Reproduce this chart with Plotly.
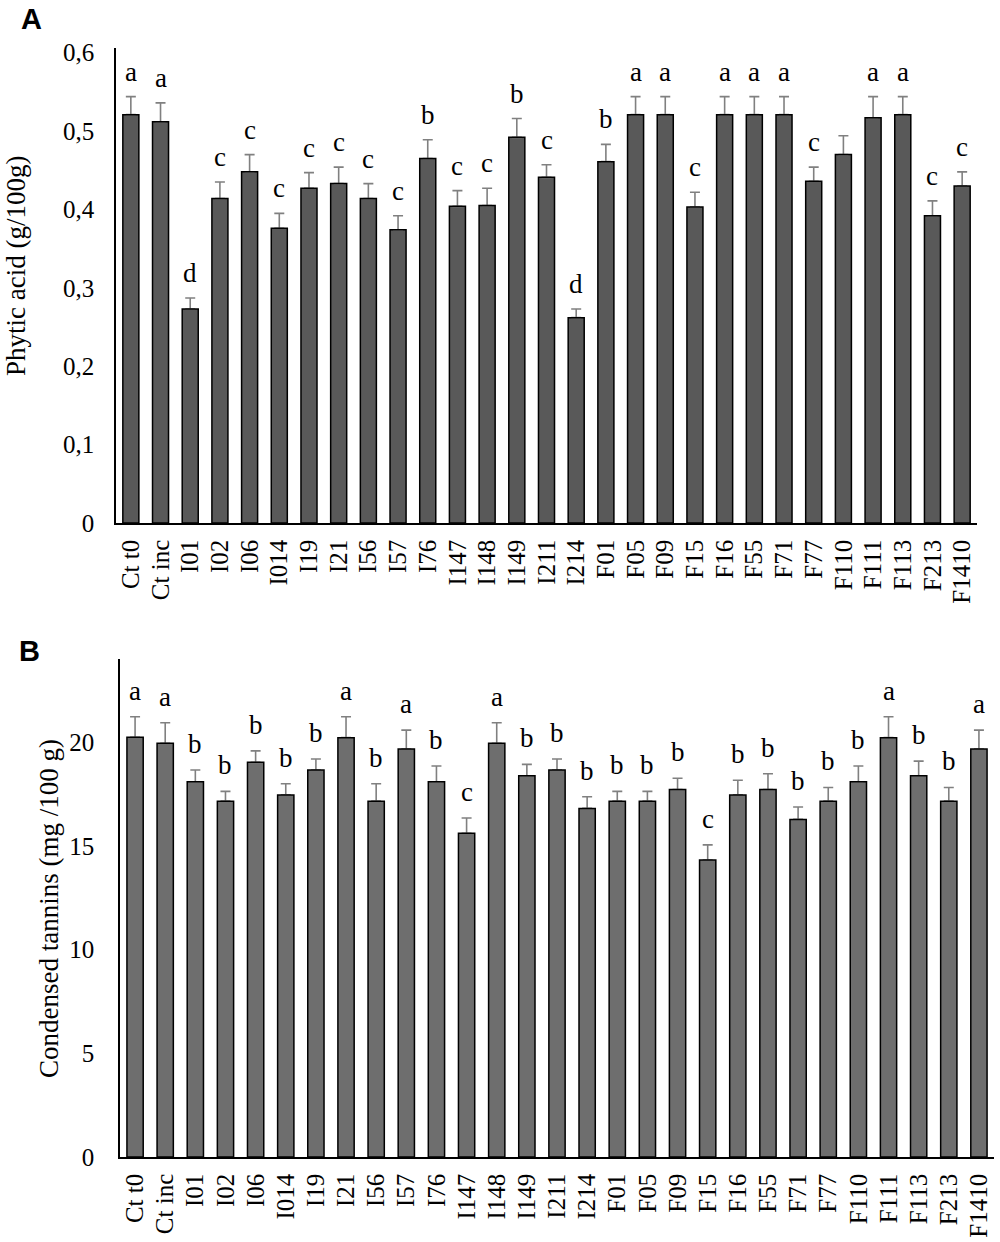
""" Phytic acid (A) and condensed tannins (B) per sample, bars with SD and letters """

import plotly.graph_objects as go

samples = ['Ct t0', 'Ct inc', 'I01', 'I02', 'I06', 'I014', 'I19', 'I21', 'I56', 'I57',
           'I76', 'I147', 'I148', 'I149', 'I211', 'I214', 'F01', 'F05', 'F09', 'F15',
           'F16', 'F55', 'F71', 'F77', 'F110', 'F111', 'F113', 'F213', 'F1410']

phytic = [0.521, 0.512, 0.273, 0.414, 0.448, 0.376, 0.427, 0.433, 0.414, 0.374,
          0.465, 0.404, 0.405, 0.492, 0.441, 0.262, 0.461, 0.521, 0.521, 0.403,
          0.521, 0.521, 0.521, 0.436, 0.470, 0.517, 0.521, 0.392, 0.430]
phytic_err = [0.023, 0.024, 0.014, 0.021, 0.022, 0.019, 0.020, 0.021, 0.019, 0.018,
              0.024, 0.020, 0.022, 0.024, 0.016, 0.011, 0.022, 0.023, 0.023, 0.019,
              0.023, 0.023, 0.023, 0.018, 0.024, 0.027, 0.023, 0.019, 0.018]
phytic_letters = ['a', 'a', 'd', 'c', 'c', 'c', 'c', 'c', 'c', 'c',
                  'b', 'c', 'c', 'b', 'c', 'd', 'b', 'a', 'a', 'c',
                  'a', 'a', 'a', 'c', '', 'a', 'a', 'c', 'c']

tannins = [20.23, 19.94, 18.08, 17.15, 19.02, 17.45, 18.65, 20.21, 17.15, 19.66,
           18.08, 15.60, 19.94, 18.37, 18.65, 16.80, 17.15, 17.15, 17.71, 14.31,
           17.45, 17.71, 16.27, 17.15, 18.08, 20.21, 18.37, 17.15, 19.66]
tannins_err = [0.99, 0.99, 0.57, 0.47, 0.55, 0.54, 0.53, 1.01, 0.84, 0.91,
               0.76, 0.74, 0.99, 0.55, 0.53, 0.56, 0.47, 0.47, 0.54, 0.73,
               0.71, 0.76, 0.60, 0.66, 0.76, 1.01, 0.71, 0.66, 0.91]
tannins_letters = ['a', 'a', 'b', 'b', 'b', 'b', 'b', 'a', 'b', 'a',
                   'b', 'c', 'a', 'b', 'b', 'b', 'b', 'b', 'b', 'c',
                   'b', 'b', 'b', 'b', 'b', 'a', 'b', 'b', 'a']

SERIF = 'Liberation Serif, Times New Roman, serif'
SANS = 'Liberation Sans, Arial, sans-serif'
W, H = 1000, 1242


def px(x):
    """ page x pixel -> paper coordinate """
    return x / W


def py(y):
    """ page y pixel -> paper coordinate """
    return 1 - y / H


def add_panel(fig, values, errors, letters, colour, n, shift):
    """ Adds filled bars with upper error bars, an outline layer and the letters """
    xa = 'x' if n == 1 else 'x' + str(n)
    ya = 'y' if n == 1 else 'y' + str(n)
    fig.add_trace(go.Bar(x=samples, y=values, xaxis=xa, yaxis=ya,
                         marker=dict(color=colour, line=dict(width=0)),
                         error_y=dict(type='data', symmetric=False, array=errors,
                                      arrayminus=[0] * len(errors), color='#808080',
                                      thickness=1.6, width=5),
                         showlegend=False, hoverinfo='x+y'))
    # black outline drawn over the lower error caps
    fig.add_trace(go.Bar(x=samples, y=values, xaxis=xa, yaxis=ya,
                         marker=dict(color='rgba(0,0,0,0)', line=dict(color='black', width=1.5)),
                         showlegend=False, hoverinfo='skip'))
    for s, v, e, t in zip(samples, values, errors, letters):
        if t:
            fig.add_annotation(x=s, y=v + e, xref=xa, yref=ya, text=t, showarrow=False,
                               xanchor='center', yanchor='bottom', yshift=shift,
                               font=dict(family=SERIF, size=27, color='black'))


fig = go.Figure()
add_panel(fig, phytic, phytic_err, phytic_letters, '#595959', 1, 8)
add_panel(fig, tannins, tannins_err, tannins_letters, '#6e6e6e', 2, 9)

axis_font = dict(family=SERIF, size=25, color='black')
x_common = dict(type='category', showline=True, linecolor='black', linewidth=1.5,
                showgrid=False, zeroline=False, tickangle=-90, ticks='outside',
                ticklen=5, tickcolor='rgba(0,0,0,0)', tickfont=axis_font,
                tickmode='array', tickvals=samples, ticktext=samples, automargin=False)
y_common = dict(showline=True, linecolor='black', linewidth=1.5, showgrid=False,
                zeroline=False, ticks='outside', tickcolor='rgba(0,0,0,0)',
                tickfont=axis_font, automargin=False)

fig.update_layout(
    width=W, height=H,
    margin=dict(l=0, r=0, t=0, b=0),
    paper_bgcolor='white', plot_bgcolor='white',
    barmode='overlay', bargap=0.46,
    separators=', ',
    xaxis=dict(domain=[px(116), px(977)], anchor='y', **x_common),
    yaxis=dict(domain=[py(523), py(48)], anchor='x', range=[0, 0.606],
               dtick=0.1, ticklen=15, **y_common),
    xaxis2=dict(domain=[px(120), px(994)], anchor='y2', **x_common),
    yaxis2=dict(domain=[py(1157), py(659)], anchor='x2', range=[0, 24],
                dtick=5, ticklen=19, **y_common),
)

# axis titles and panel letters
fig.add_annotation(x=px(16), y=py(266), xref='paper', yref='paper', showarrow=False,
                   xanchor='center', yanchor='middle',
                   text='Phytic acid (g/100g)', textangle=-90,
                   font=dict(family=SERIF, size=27, color='black'))
fig.add_annotation(x=px(49), y=py(909), xref='paper', yref='paper', showarrow=False,
                   xanchor='center', yanchor='middle',
                   text='Condensed tannins (mg /100 g)', textangle=-90,
                   font=dict(family=SERIF, size=27, color='black'))
fig.add_annotation(x=px(31), y=py(19), xref='paper', yref='paper', showarrow=False,
                   xanchor='center', yanchor='middle', text='<b>A</b>',
                   font=dict(family=SANS, size=29, color='black'))
fig.add_annotation(x=px(29), y=py(651), xref='paper', yref='paper', showarrow=False,
                   xanchor='center', yanchor='middle', text='<b>B</b>',
                   font=dict(family=SANS, size=29, color='black'))

# the page body has a default 8 px margin; drop it so the figure fills the window
fig.write_html('out.html', config={'displayModeBar': False},
               post_script="document.body.style.margin = '0';")
